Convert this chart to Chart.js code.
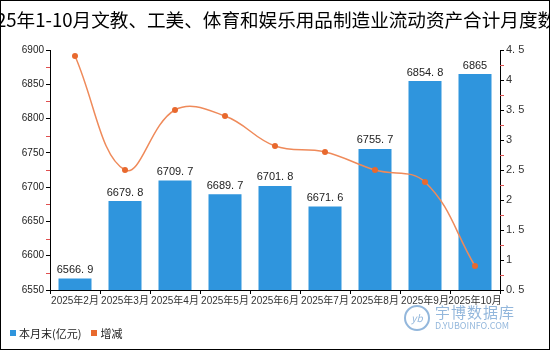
<!DOCTYPE html>
<html lang="zh-CN">
<head>
    <meta charset="UTF-8">
    <title>文教、工美、体育和娱乐用品制造业流动资产合计月度数据</title>
    <script src="https://cdn.jsdelivr.net/npm/chart.js"></script>
    <style>
        body {
            margin: 0;
            padding: 0;
            background: #fff;
            font-family: 'Noto Sans CJK SC', sans-serif;
        }
        .wrap {
            position: relative;
            width: 550px;
            height: 350px;
        }
        .legend {
            position: absolute;
            left: 10px;
            top: 325px;
            font-size: 11px;
            color: #222;
            display: flex;
            align-items: center;
        }
        .legend span.box {
            display: inline-block;
            width: 6px;
            height: 6px;
            margin-right: 3px;
        }
        .legend span.item {
            margin-right: 10px;
            display: flex;
            align-items: center;
        }
        .mark {
            position: absolute;
            left: 404px;
            top: 304px;
            color: #6f9fd0;
            opacity: 0.75;
            display: flex;
            align-items: center;
        }
        .mark .logo {
            width: 22px;
            height: 22px;
            border: 2px solid #6f9fd0;
            border-radius: 50%;
            font-size: 10px;
            font-style: italic;
            text-align: center;
            line-height: 22px;
            margin-right: 5px;
        }
        .mark .name { font-size: 15px; line-height: 16px; letter-spacing: 1px; }
        .mark .url { font-size: 9px; line-height: 11px; }
    </style>
</head>
<body>
<div class="wrap">
    <canvas id="chart" width="550" height="350"></canvas>
    <div class="legend">
        <span class="item"><span class="box" style="background:#2f95dd"></span>本月末(亿元)</span>
        <span class="item"><span class="box" style="background:#e8692e"></span>增减</span>
    </div>
    <div class="mark">
        <div class="logo">yb</div>
        <div>
            <div class="name">宇博数据库</div>
            <div class="url">D.YUBOINFO.COM</div>
        </div>
    </div>
</div>

<script>
    // 数据
    const months = ['2025年2月', '2025年3月', '2025年4月', '2025年5月', '2025年6月',
        '2025年7月', '2025年8月', '2025年9月', '2025年10月'];
    const monthEnd = [6566.9, 6679.8, 6709.7, 6689.7, 6701.8, 6671.6, 6755.7, 6854.8, 6865];
    const change = [4.4, 2.5, 3.5, 3.4, 2.9, 2.8, 2.5, 2.3, 0.9];
    const titleText = '2025年1-10月文教、工美、体育和娱乐用品制造业流动资产合计月度数据';

    // 小数点后加空格, 跟原图一样
    const fmt = v => String(v).replace('.', '. ');

    const tickFont = { family: "'Liberation Sans', 'Noto Sans CJK SC', sans-serif", size: 10 };

    // 标题, 边框, 数值标签, 红色小刻度
    const decor = {
        id: 'decor',
        afterDraw(chart) {
            const ctx = chart.ctx;
            ctx.save();
            ctx.fillStyle = '#000';
            ctx.font = "18.6px 'Noto Sans CJK SC'";
            ctx.textAlign = 'center';
            ctx.textBaseline = 'middle';
            ctx.fillText(titleText, 275, 20);

            ctx.strokeStyle = '#000';
            ctx.lineWidth = 1;
            ctx.strokeRect(0.5, 0.5, 549, 349);

            // 柱子上的数值 (柱子是第二个数据集)
            const meta = chart.getDatasetMeta(1);
            ctx.font = "11px 'Liberation Sans', 'Noto Sans CJK SC'";
            ctx.fillStyle = '#222';
            ctx.textBaseline = 'bottom';
            meta.data.forEach((bar, i) => {
                ctx.fillText(fmt(monthEnd[i]), bar.x, bar.y - 3);
            });

            // 次刻度
            ctx.strokeStyle = '#e05050';
            ['y', 'y1'].forEach(id => {
                const s = chart.scales[id];
                const tk = s.ticks;
                for (let i = 0; i < tk.length - 1; i++) {
                    const mid = (tk[i].value + tk[i + 1].value) / 2;
                    const py = Math.round(s.getPixelForValue(mid)) + 0.5;
                    ctx.beginPath();
                    if (id === 'y') {
                        ctx.moveTo(s.right - 4, py);
                        ctx.lineTo(s.right, py);
                    } else {
                        ctx.moveTo(s.left, py);
                        ctx.lineTo(s.left + 4, py);
                    }
                    ctx.stroke();
                }
            });
            ctx.restore();
        }
    };

    new Chart(document.getElementById('chart'), {
        data: {
            labels: months,
            datasets: [{
                type: 'line',
                label: '增减',
                data: change,
                yAxisID: 'y1',
                borderColor: '#ef8a5a',
                backgroundColor: '#e8692e',
                borderWidth: 1.5,
                pointRadius: 3,
                pointBorderWidth: 0,
                tension: 0.4,
                order: 0
            }, {
                type: 'bar',
                label: '本月末(亿元)',
                data: monthEnd,
                yAxisID: 'y',
                backgroundColor: '#2f95dd',
                categoryPercentage: 0.66,
                barPercentage: 1,
                order: 1
            }]
        },
        options: {
            responsive: false,
            animation: false,
            layout: { padding: { top: 50, left: 0, right: 0, bottom: 40 } },
            plugins: {
                legend: { display: false },
                title: { display: false },
                tooltip: { enabled: false }
            },
            scales: {
                x: {
                    grid: { offset: true, drawOnChartArea: false, tickLength: 4, color: '#000' },
                    border: { color: '#000' },
                    ticks: { font: tickFont, color: '#333', maxRotation: 0, autoSkip: false, padding: 1 },
                    afterFit(s) { s.height = 20; }
                },
                y: {
                    position: 'left',
                    min: 6550,
                    max: 6900,
                    grid: { drawOnChartArea: false, tickLength: 4, color: '#000' },
                    border: { color: '#000' },
                    ticks: { stepSize: 50, font: tickFont, color: '#222', padding: 2, callback: v => String(v) },
                    afterFit(s) { s.width = 50; }
                },
                y1: {
                    position: 'right',
                    min: 0.5,
                    max: 4.5,
                    grid: { drawOnChartArea: false, tickLength: 4, color: '#000' },
                    border: { color: '#000' },
                    ticks: {
                        stepSize: 0.5,
                        font: { family: "'Liberation Sans', sans-serif", size: 11 },
                        color: '#333',
                        padding: 2,
                        callback: v => fmt(v)
                    },
                    afterFit(s) { s.width = 50; }
                }
            }
        },
        plugins: [decor]
    });
</script>
</body>
</html>
